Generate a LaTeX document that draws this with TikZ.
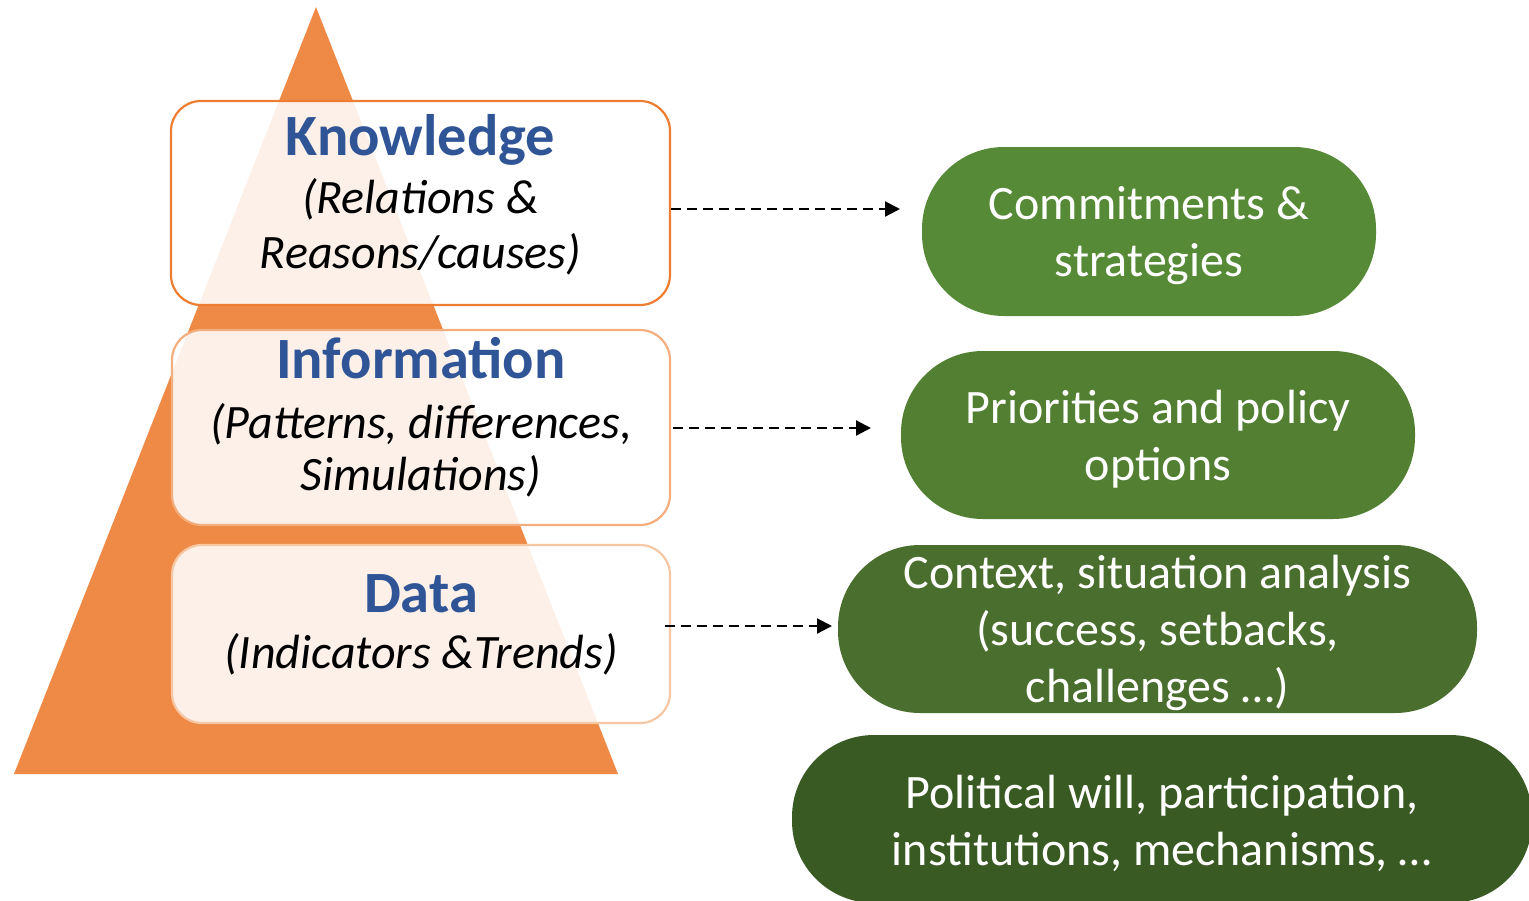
\documentclass[tikz,border=0pt]{standalone}
\usepackage{fontspec}
\setmainfont{Carlito}
\usetikzlibrary{arrows.meta}
\definecolor{tri}{HTML}{EE8A45}
\definecolor{bA}{HTML}{ED7D31}
\definecolor{bB}{HTML}{F4AE7E}
\definecolor{bC}{HTML}{F7C6A3}
\definecolor{ttl}{HTML}{2F5597}
\definecolor{gA}{HTML}{568A36}
\definecolor{gB}{HTML}{527F32}
\definecolor{gC}{HTML}{4A6E2D}
\definecolor{gD}{HTML}{3A5A24}
\tikzset{
  lvlbox/.style={rectangle, rounded corners=30pt, line width=2.2pt, fill=white, fill opacity=0.88, inner sep=0pt},
  ttlfont/.style={anchor=base, inner sep=0pt, text=ttl, font=\fontsize{58.5}{62}\selectfont\bfseries},
  subfont/.style={anchor=base, inner sep=0pt, text=black, font=\fontsize{48}{56}\selectfont\itshape},
  greenbox/.style={rectangle, rounded corners=82pt, inner sep=0pt},
  greentext/.style={inner sep=0pt, text=white, align=center, font=\fontsize{48}{57}\selectfont, yshift=-4pt},
  dasharrow/.style={line width=2.2pt, dash pattern=on 10pt off 6pt, -{Triangle[length=15pt,width=15pt]}}
}
\begin{document}
\begin{tikzpicture}[x=1pt,y=-1pt]
\useasboundingbox (0,0) rectangle (1529,900);
\clip (0,0) rectangle (1529,900);
% pyramid
\fill[tri] (316,7) -- (618,774) -- (14,774) -- cycle;
% level boxes
\node[lvlbox, draw=bA, minimum width=499pt, minimum height=204pt] (kbox) at (420.5,203) {};
\node[lvlbox, draw=bB, minimum width=498pt, minimum height=195pt] (ibox) at (421,427.5) {};
\node[lvlbox, draw=bC, minimum width=498pt, minimum height=178pt] (dbox) at (421,634) {};
% texts
\node[ttlfont] (kt) at (420.5,155) {Knowledge};
\node[subfont] (ks1) at (420.5,213) {(Relations \&};
\node[subfont] (ks2) at (420.5,268) {Reasons/causes)};
\node[ttlfont] (it) at (421,378) {Information};
\node[subfont] (is1) at (421,438) {(Patterns, differences,};
\node[subfont] (is2) at (421,490) {Simulations)};
\node[ttlfont] (dt) at (421,612) {Data};
\node[subfont] (ds1) at (421,668) {(Indicators \&Trends)};
% green shapes
\node[greenbox, fill=gA, minimum width=454pt, minimum height=169pt] (g1) at (1149,231.5) {};
\node[greentext] (g1t) at (g1) {Commitments \&\\strategies};
\node[greenbox, fill=gB, minimum width=514pt, minimum height=168pt] (g2) at (1158,435) {};
\node[greentext] (g2t) at (g2) {Priorities and policy\\options};
\node[greenbox, fill=gC, minimum width=639pt, minimum height=168pt] (g3) at (1157.5,629) {};
\node[greentext] (g3t) at (g3) {Context, situation analysis\\(success, setbacks,\\challenges …)};
\node[greenbox, fill=gD, minimum width=740pt, minimum height=168pt] (g4) at (1162,819) {};
\node[greentext] (g4t) at (g4) {Political will, participation,\\institutions, mechanisms, …};
% arrows
\coordinate (e1) at (900,209);
\coordinate (e2) at (871,428);
\coordinate (e3) at (832,626);
\draw[dasharrow] (kbox.east |- e1) -- (e1);
\draw[dasharrow] (ibox.east |- e2) ++(2,0) -- (e2);
\draw[dasharrow] (dbox.east |- e3) ++(-6,0) -- (e3);
\end{tikzpicture}
\end{document}
